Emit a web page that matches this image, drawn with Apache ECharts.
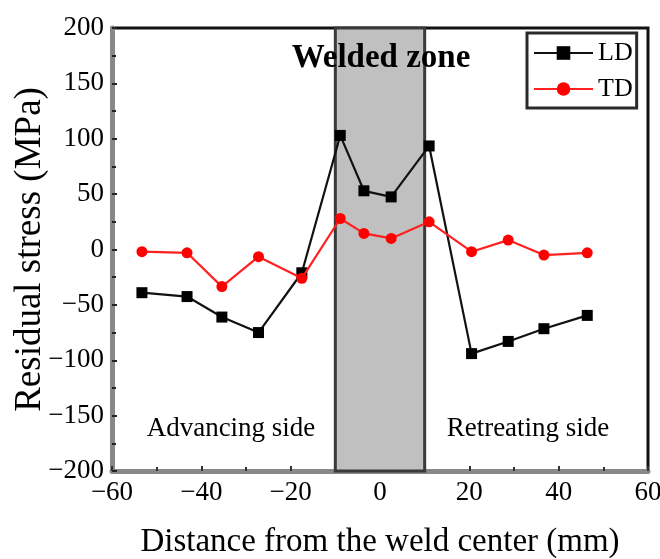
<!DOCTYPE html>
<html>
<head>
<meta charset="utf-8">
<script src="https://cdn.jsdelivr.net/npm/echarts@6/dist/echarts.min.js"></script>
<style>
  html, body { margin: 0; padding: 0; background: #fff; }
  #chart { width: 660px; height: 559px; }
</style>
</head>
<body>
<div id="chart"></div>
<script>
// Measurement positions across the weld (mm)
const positions = [-53.3, -43.2, -35.4, -27.2, -17.5, -8.9, -3.6, 2.5, 11.0, 20.5, 28.7, 36.7, 46.4];
// Longitudinal residual stress (MPa)
const ldStress = [-39, -42.5, -61, -75, -21, 103, 53, 47.5, 93.5, -94, -83, -71.5, -59.5];
// Transverse residual stress (MPa)
const tdStress = [-2, -3, -33.5, -6.5, -26, 28, 14.5, 10, 25, -2, 8.5, -5, -3];
// Extent of the welded zone (mm)
const weldZone = [-10, 10];
const seriesNames = ['LD', 'TD'];

const serif = '"Liberation Serif", "DejaVu Serif", serif';
const minus = v => String(v).replace('-', '\u2212');

const chart = echarts.init(document.getElementById('chart'), null, { renderer: 'canvas' });

const pairs = ys => positions.map((x, i) => [x, ys[i]]);

chart.setOption({
  animation: false,
  backgroundColor: '#fff',
  grid: {
    left: 112, right: 12, top: 28, bottom: 88,
    containLabel: false, outerBoundsMode: 'none',
    show: true, borderColor: '#111', borderWidth: 3, backgroundColor: 'transparent'
  },
  legend: {
    data: seriesNames,
    orient: 'vertical',
    left: 527, top: 33,
    padding: [6, 4, 5, 6],
    itemWidth: 59, itemHeight: 17, itemGap: 8,
    borderColor: '#2a2a2a', borderWidth: 3,
    textStyle: { fontFamily: serif, fontSize: 26, color: '#000', lineHeight: 28 }
  },
  xAxis: {
    type: 'value', min: -60, max: 60, interval: 20,
    name: 'Distance from the weld center (mm)',
    nameLocation: 'middle', nameGap: 55,
    nameTextStyle: { fontFamily: serif, fontSize: 33, color: '#000' },
    axisLine: { show: true, onZero: false, lineStyle: { color: '#888', width: 5 } },
    axisTick: { show: true, inside: true, length: 5, lineStyle: { color: '#333', width: 2 } },
    minorTick: { show: true, splitNumber: 2, length: 4, lineStyle: { color: '#333', width: 2 } },
    splitLine: { show: false },
    axisLabel: { fontFamily: serif, fontSize: 27, color: '#000', margin: 8, formatter: minus }
  },
  yAxis: {
    type: 'value', min: -200, max: 200, interval: 50,
    name: 'Residual stress (MPa)',
    nameLocation: 'middle', nameGap: 63, nameMoveOverlap: false,
    nameTextStyle: { fontFamily: serif, fontSize: 37, color: '#000' },
    axisLine: { show: true, onZero: false, lineStyle: { color: '#888', width: 5 } },
    axisTick: { show: true, inside: true, length: 5, lineStyle: { color: '#222', width: 2 } },
    minorTick: { show: true, splitNumber: 2, length: 4, lineStyle: { color: '#222', width: 2 } },
    splitLine: { show: false },
    axisLabel: { fontFamily: serif, fontSize: 27, color: '#000', margin: 8, formatter: minus }
  },
  graphic: [
    { type: 'text', z: 10,
      style: { text: 'Welded zone', x: 381, y: 58, textAlign: 'center', textVerticalAlign: 'middle',
               font: 'bold 33px ' + serif, fill: '#000' } },
    { type: 'text', z: 10,
      style: { text: 'Advancing side', x: 231, y: 429, textAlign: 'center', textVerticalAlign: 'middle',
               font: '27px ' + serif, fill: '#000' } },
    { type: 'text', z: 10,
      style: { text: 'Retreating side', x: 528, y: 429, textAlign: 'center', textVerticalAlign: 'middle',
               font: '27px ' + serif, fill: '#000' } }
  ],
  series: [
    {
      type: 'line', name: 'zone', data: [], z: 1, silent: true,
      markArea: {
        silent: true,
        itemStyle: { color: '#c0c0c0', borderColor: '#3a3a3a', borderWidth: 3 },
        data: [[{ xAxis: weldZone[0], yAxis: -200 }, { xAxis: weldZone[1], yAxis: 200 }]]
      }
    },
    {
      type: 'line', name: seriesNames[0], data: pairs(ldStress), z: 4,
      symbol: 'rect', symbolSize: 11, showAllSymbol: true,
      lineStyle: { color: '#111', width: 2.2 },
      itemStyle: { color: '#000' }
    },
    {
      type: 'line', name: seriesNames[1], data: pairs(tdStress), z: 5,
      symbol: 'circle', symbolSize: 11, showAllSymbol: true,
      lineStyle: { color: '#ff2020', width: 2.2 },
      itemStyle: { color: '#ff0000' }
    }
  ]
});
</script>
</body>
</html>
